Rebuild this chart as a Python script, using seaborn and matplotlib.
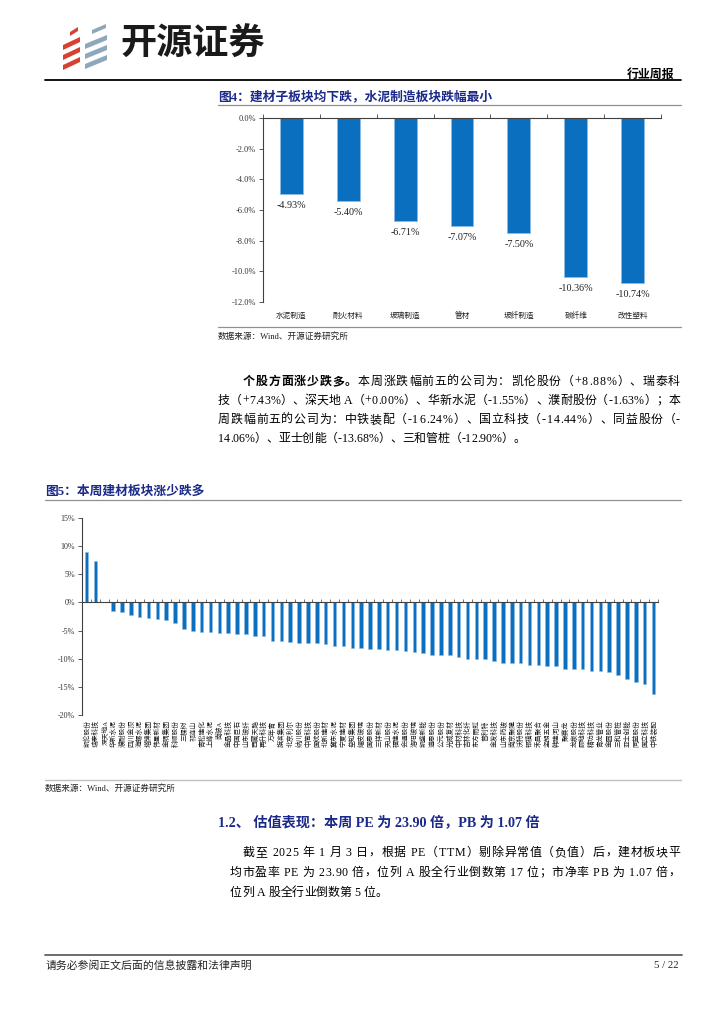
import matplotlib
matplotlib.use('Agg')
import matplotlib.pyplot as plt
import matplotlib.transforms as mtransforms
from matplotlib.lines import Line2D
from matplotlib.patches import Polygon
from matplotlib.font_manager import FontProperties
import numpy as np
import pandas as pd
import seaborn as sns

# ---- data ----
sub_sectors = ['水泥制造', '耐火材料', '玻璃制造', '管材', '玻纤制造', '碳纤维', '改性塑料']
sub_change = [-4.93, -5.40, -6.71, -7.07, -7.50, -10.36, -10.74]

stocks = ['凯伦股份', '瑞泰科技', '深天地A', '华新水泥', '濮耐股份', '四川金顶', '海螺水泥', '塔牌集团',
          '伟星新材', '金隅集团', '科顺股份', '三棵树', '祁连山', '青松建化', '上峰水泥', '南玻A',
          '金晶科技', '中国巨石', '山东玻纤', '西藏天路', '再升科技', '万年青', '旗滨集团', '北京利尔',
          '纳川股份', '中简科技', '国统股份', '北新建材', '冀东水泥', '宁夏建材', '垒知集团', '耀皮玻璃',
          '国恩股份', '三祥新材', '天山股份', '福建水泥', '会通股份', '洛阳玻璃', '凯盛新能', '道恩股份',
          '公元股份', '光威复材', '中材科技', '吉林化纤', '东方雨虹', '普利特', '金发科技', '山东药玻',
          '南京聚隆', '沃特股份', '银禧科技', '禾昌聚合', '坚朗五金', '韩建河山', '聚赛龙', '龙泉股份',
          '顾地科技', '精功科技', '青龙管业', '金圆股份', '三和管桩', '亚士创能', '同益股份', '国立科技',
          '中铁装配']
stock_change = [8.88, 7.43, 0.00, -1.55, -1.63, -2.24, -2.50, -2.80, -2.92, -3.10, -3.65, -4.70,
                -5.00, -5.22, -5.32, -5.40, -5.50, -5.58, -5.60, -5.95, -6.05, -6.88, -6.92, -7.10,
                -7.15, -7.18, -7.22, -7.30, -7.75, -7.80, -8.05, -8.12, -8.28, -8.35, -8.38, -8.52,
                -8.60, -8.82, -8.95, -9.28, -9.35, -9.42, -9.65, -9.98, -10.02, -10.12, -10.40, -10.68,
                -10.70, -10.76, -11.05, -11.18, -11.25, -11.35, -11.75, -11.88, -11.90, -12.10, -12.18,
                -12.35, -12.90, -13.68, -14.06, -14.44, -16.24]

yticks1 = [0, -2, -4, -6, -8, -10, -12]
yticks2 = [15, 10, 5, 0, -5, -10, -15, -20]

# ---- style ----
W, H, DPI = 724, 1024, 100
BLUE = '#0A6FBF'
EDGE = '#8DBBE3'
NAVY = '#1B2A8A'
AXC = '#404040'
FAM = ['Liberation Serif', 'Noto Sans CJK SC']

sns.set_theme(style='white')
plt.rcParams['font.family'] = FAM
plt.rcParams['axes.unicode_minus'] = False


def fx(x):
    return x / W


def fy(y):
    return 1 - y / H


fig = plt.figure(figsize=(W / DPI, H / DPI), dpi=DPI)
fig.patch.set_facecolor('white')
renderer = fig.canvas.get_renderer()


def hline(x0, x1, y, color='black', lw=1.0):
    fig.add_artist(Line2D([fx(x0), fx(x1)], [fy(y), fy(y)], color=color, lw=lw))


def tw(s, prop):
    return renderer.get_text_width_height_descent(s, prop, ismath=False)[0]


def text_line(segs, x0, y, x1=None, size=8.6, color='black'):
    # place a line char by char so it can be justified between x0 and x1
    items = []
    for s, wt in segs:
        prop = FontProperties(family=FAM, size=size, weight=wt)
        for c in s:
            items.append((c, prop))
    advs, lbs = [], []
    for c, p in items:
        if c == ' ':
            advs.append(size * DPI / 72 * 0.25)
            lbs.append(0)
            continue
        adv_bar = tw('||', p) - tw('|', p)
        advs.append(tw('|' + c + '|', p) - tw('||', p))
        lbs.append(max(0, tw('|' + c, p) - tw(c, p) - adv_bar))
    gap = 0
    if x1 is not None and len(items) > 1:
        gap = (x1 - x0 - sum(advs)) / (len(items) - 1)
    x = x0
    for (c, p), a, lb in zip(items, advs, lbs):
        if c != ' ':
            fig.text(fx(x + lb), fy(y), c, fontproperties=p, color=color,
                     ha='left', va='baseline')
        x += a + gap


# ---- header ----
for k in range(3):
    y0 = 40 + k * 10
    fig.add_artist(Polygon([(fx(63), fy(y0 + 5)), (fx(80), fy(y0 - 3)), (fx(80), fy(y0 + 2)),
                            (fx(63), fy(y0 + 10))], closed=True, color='#D8412F', lw=0))
    fig.add_artist(Polygon([(fx(85), fy(y0 + 4)), (fx(107), fy(y0 - 5)), (fx(107), fy(y0)),
                            (fx(85), fy(y0 + 9))], closed=True, color='#8EA8BB', lw=0))
fig.add_artist(Polygon([(fx(70), fy(32)), (fx(78), fy(27)), (fx(78), fy(31)), (fx(70), fy(36))],
                       closed=True, color='#D8412F', lw=0))
fig.add_artist(Polygon([(fx(92), fy(30)), (fx(106), fy(24)), (fx(106), fy(28)), (fx(92), fy(34))],
                       closed=True, color='#8EA8BB', lw=0))
fig.text(fx(120), fy(44), '开源证券', fontsize=26, fontweight='bold', color='#1A1A1A',
         family='Noto Sans CJK SC', ha='left', va='center')
fig.text(fx(674), fy(74), '行业周报', fontsize=8.6, fontweight='bold', color='black',
         family='Noto Sans CJK SC', ha='right', va='center')
hline(45, 681, 80, 'black', 1.3)

# ---- figure 4 ----
fig.text(fx(218), fy(97), '图4：建材子板块均下跌，水泥制造板块跌幅最小', fontsize=9.2,
         fontweight='bold', color=NAVY, ha='left', va='center')
hline(218, 681, 105, '#909090', 0.9)

df1 = pd.DataFrame({'sector': sub_sectors, 'change': sub_change})
ax1 = fig.add_axes([fx(263), fy(302), (661 - 263) / W, (302 - 118) / H])
sns.barplot(data=df1, x='sector', y='change', order=sub_sectors, color=BLUE, saturation=1,
            width=0.4, edgecolor=EDGE, linewidth=0.6, ax=ax1)
ax1.set_xlim(-0.5, len(sub_sectors) - 0.5)
ax1.set_ylim(-12, 0)
ax1.set_yticks(yticks1)
ax1.set_yticklabels([f'{v:.1f}%' for v in yticks1], fontsize=6, color='#333333')
ax1.set_xticks(range(len(sub_sectors)))
ax1.set_xticklabels(sub_sectors, fontsize=5.5, color='#222222')
ax1.set_xticks(np.arange(-0.5, len(sub_sectors)), minor=True)
ax1.tick_params(axis='x', which='major', length=0, pad=7)
ax1.tick_params(axis='x', which='minor', top=True, bottom=False, direction='out', length=3,
                color=AXC, width=0.6)
ax1.tick_params(axis='y', left=True, direction='out', length=3, color=AXC, width=0.6, pad=2)
ax1.set_xlabel('')
ax1.set_ylabel('')
for s in ['bottom', 'right']:
    ax1.spines[s].set_visible(False)
for s in ['top', 'left']:
    ax1.spines[s].set_color(AXC)
    ax1.spines[s].set_linewidth(0.8)
for i, v in enumerate(sub_change):
    ax1.annotate(f'{v:.2f}%', (i, v), xytext=(0, -5), textcoords='offset points',
                 ha='center', va='top', fontsize=7.3, color='#222222')

hline(218, 681, 327, '#909090', 0.9)
fig.text(fx(218), fy(336), '数据来源：Wind、开源证券研究所', fontsize=6.2, color='#222222',
         ha='left', va='center')

# ---- paragraph 1 ----
text_line([('个股方面涨少跌多。', 'bold'),
           ('本周涨跌幅前五的公司为：凯伦股份（+8.88%）、瑞泰科', 'normal')], 243, 385, 680)
text_line([('技（+7.43%）、深天地 A（+0.00%）、华新水泥（-1.55%）、濮耐股份（-1.63%）；本', 'normal')],
          218, 404, 680)
text_line([('周跌幅前五的公司为：中铁装配（-16.24%）、国立科技（-14.44%）、同益股份（-', 'normal')],
          218, 423, 680)
text_line([('14.06%）、亚士创能（-13.68%）、三和管桩（-12.90%）。', 'normal')], 218, 442)

# ---- figure 5 ----
fig.text(fx(45), fy(492), '图5：本周建材板块涨少跌多', fontsize=9.2, fontweight='bold',
         color=NAVY, ha='left', va='center')
hline(45, 681, 500, '#909090', 0.9)

df2 = pd.DataFrame({'stock': stocks, 'change': stock_change})
ax2 = fig.add_axes([fx(82), fy(715), (658 - 82) / W, (715 - 518) / H])
sns.barplot(data=df2, x='stock', y='change', order=stocks, color=BLUE, saturation=1,
            width=0.4, edgecolor=EDGE, linewidth=0.4, ax=ax2)
ax2.set_xlim(-0.5, len(stocks) - 0.5)
ax2.set_ylim(-20, 15)
ax2.set_yticks(yticks2)
ax2.set_yticklabels([f'{v}%' for v in yticks2], fontsize=5.8, color='#333333')
ax2.spines['bottom'].set_position(('data', 0))
ax2.set_xticks(range(len(stocks)))
ax2.set_xticklabels([])
ax2.set_xticks(np.arange(-0.5, len(stocks)), minor=True)
ax2.tick_params(axis='x', which='major', length=0)
ax2.tick_params(axis='x', which='minor', bottom=True, direction='in', length=2.5,
                color=AXC, width=0.5)
ax2.tick_params(axis='y', left=True, direction='out', length=3, color=AXC, width=0.6, pad=2)
ax2.set_xlabel('')
ax2.set_ylabel('')
for s in ['top', 'right']:
    ax2.spines[s].set_visible(False)
for s in ['bottom', 'left']:
    ax2.spines[s].set_color(AXC)
    ax2.spines[s].set_linewidth(0.8)
trans = mtransforms.blended_transform_factory(ax2.transData, ax2.transAxes)
for i, name in enumerate(stocks):
    ax2.text(i, -0.027, name, transform=trans, rotation=90, ha='center', va='top',
             fontsize=4.9, color='#222222')

hline(45, 681, 780, '#C0C0C0', 1.0)
fig.text(fx(45), fy(788), '数据来源：Wind、开源证券研究所', fontsize=6.2, color='#222222',
         ha='left', va='center')

# ---- section 1.2 ----
fig.text(fx(218), fy(823), '1.2、 估值表现：本周 PE 为 23.90 倍，PB 为 1.07 倍', fontsize=10.2,
         fontweight='bold', color=NAVY, ha='left', va='center')
text_line([('截至 2025 年 1 月 3 日，根据 PE（TTM）剔除异常值（负值）后，建材板块平', 'normal')],
          243, 856, 680)
text_line([('均市盈率 PE 为 23.90 倍，位列 A 股全行业倒数第 17 位；市净率 PB 为 1.07 倍，', 'normal')],
          230, 876, 680)
text_line([('位列 A 股全行业倒数第 5 位。', 'normal')], 230, 896)

# ---- footer ----
hline(45, 682, 955, '#606060', 1.3)
fig.text(fx(46), fy(966), '请务必参阅正文后面的信息披露和法律声明', fontsize=7.8, color='#222222',
         ha='left', va='center')
fig.text(fx(679), fy(966), '5 / 22', fontsize=7.8, color='#222222', ha='right', va='center')

fig.savefig('out.png', dpi=DPI)
